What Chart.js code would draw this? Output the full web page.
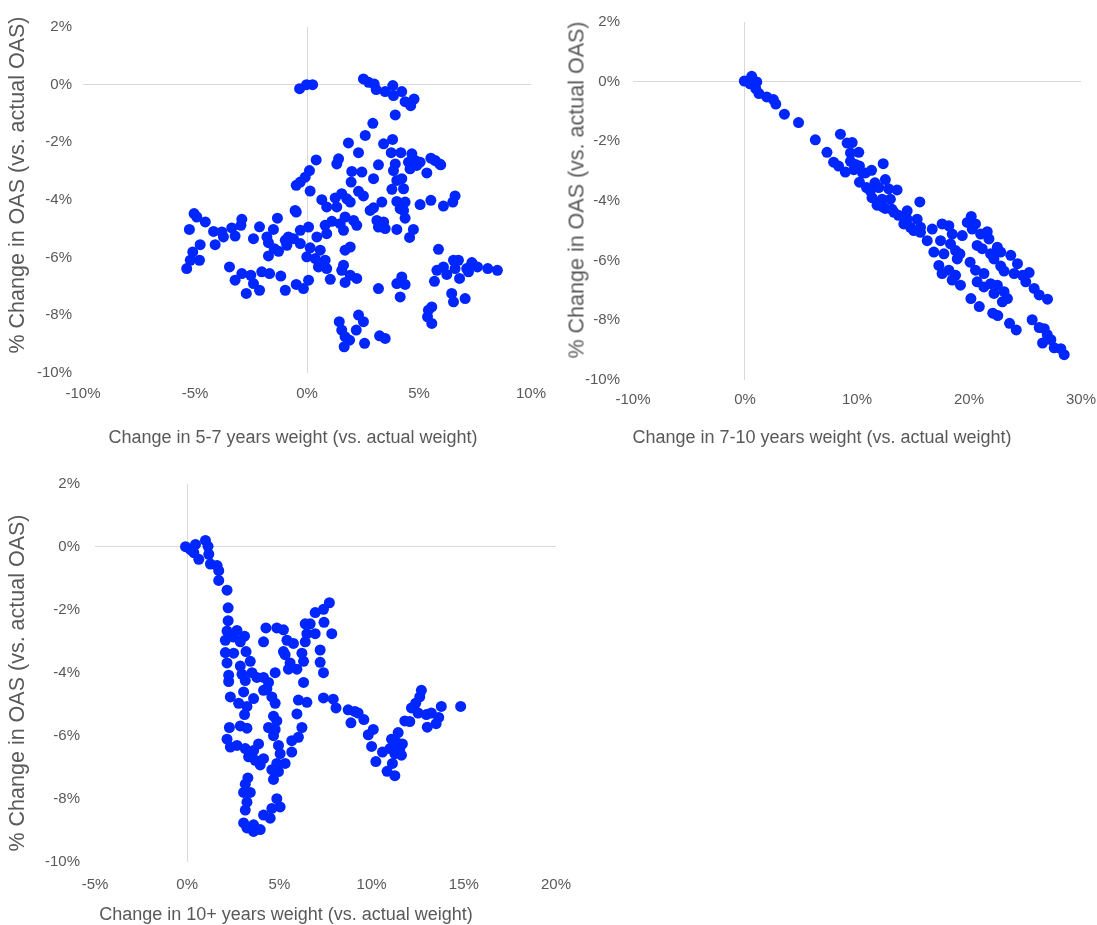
<!DOCTYPE html>
<html>
<head>
<meta charset="utf-8">
<script src="https://cdn.jsdelivr.net/npm/chart.js@4.4.1/dist/chart.umd.min.js"></script>
<style>
body{margin:0;background:#fff;width:1097px;height:925px;position:relative;overflow:hidden;font-family:"Liberation Sans",Arial,sans-serif;}
canvas{position:absolute;}
.xt,.yt{position:absolute;color:#595959;white-space:nowrap;font-size:18px;}
.xt{transform:translate(-50%,-50%);}
.yt{font-size:21.5px;transform:translate(-50%,-50%) rotate(-90deg);}
</style>
</head>
<body>
<canvas id="c1" width="565" height="460" style="left:0;top:0"></canvas>
<canvas id="c2" width="547" height="460" style="left:560px;top:0"></canvas>
<canvas id="c3" width="600" height="465" style="left:0;top:460px"></canvas>

<div class="yt" style="left:17px;top:185px">% Change in OAS (vs. actual OAS)</div>
<div class="xt" style="left:293px;top:437px">Change in 5-7 years weight (vs. actual weight)</div>
<div class="yt" style="left:577px;top:190px">% Change in OAS (vs. actual OAS)</div>
<div class="xt" style="left:822px;top:437px">Change in 7-10 years weight (vs. actual weight)</div>
<div class="yt" style="left:17px;top:683px">% Change in OAS (vs. actual OAS)</div>
<div class="xt" style="left:286px;top:914px">Change in 10+ years weight (vs. actual weight)</div>

<script>
// [weight change %, OAS change %]
const pts57 = [
	[-0.33,-0.14],[-0.02,0],[0.25,0],
	[2.52,0.2],[2.75,0.08],[3.0,0.02],[3.09,-0.17],[3.49,-0.24],[3.83,-0.03],[3.86,-0.38],[4.23,-0.24],[4.38,-0.59],[4.63,-0.73],[4.78,-0.5],
	[3.94,-1.05],[2.94,-1.34],[2.6,-1.76],[3.42,-2.05],[3.82,-1.9],[2.3,-2.36],[3.76,-2.36],[4.19,-2.36],[4.68,-2.4],[4.53,-2.69],[5.05,-2.69],
	[5.53,-2.55],[5.92,-2.75],[3.19,-2.78],[3.94,-2.75],[3.86,-2.98],[5.35,-3.06],[4.6,-2.92],[2.45,-3.03],[2.97,-3.26],[4.01,-3.32],[4.23,-3.26],
	[4.31,-3.61],[3.79,-3.63],[2.3,-3.7],[2.52,-3.86],[3.34,-4.07],[4.01,-4.05],[4.38,-4.07],[5.05,-4.16],[5.53,-4.01],[6.09,-4.21],[6.61,-3.86],
	[6.51,-4.07],[2.97,-4.27],[5.72,-2.63],[5.97,-2.78],[4.83,-2.63],[4.9,-2.8],
	[1.85,-2.02],[0.41,-2.61],[1.41,-2.57],[1.33,-2.75],[0.11,-2.98],[2.0,-3.01],[-0.08,-3.21],[-0.3,-3.38],[-0.48,-3.49],[0.14,-3.69],
	[1.97,-3.38],[0.66,-3.99],[1.26,-3.93],[1.55,-3.78],[1.78,-3.96],[1.93,-4.07],[0.88,-4.24],[1.33,-4.24],[-0.53,-4.36],
	[-5.04,-4.47],[-4.92,-4.59],[-4.54,-4.76],[-5.25,-5.02],[-4.17,-5.09],[-3.8,-5.11],[-3.73,-5.28],[-3.36,-4.97],[-3.21,-5.25],[-2.91,-4.67],
	[-2.95,-4.88],[-4.77,-5.55],[-4.1,-5.55],[-5.1,-5.8],[-5.21,-6.09],[-4.8,-6.09],[-5.37,-6.38],[-3.46,-6.32],[-2.91,-6.55],[-3.21,-6.78],
	[-2.51,-6.61],[-2.39,-6.9],[-2.12,-7.13],[-2.71,-7.24],[-2.02,-6.49],[-1.67,-6.55],[-1.17,-6.64],[-2.12,-4.93],[-2.39,-5.34],[-1.79,-5.28],
	[-1.72,-5.48],[-1.5,-5.02],[-1.32,-4.63],[-1.46,-5.69],[-1.27,-5.78],[-1.72,-5.94],[-0.97,-5.4],[-0.83,-5.28],[-0.6,-5.34],[-0.9,-5.57],
	[-0.48,-4.42],[-0.3,-5.05],[-0.3,-5.51],[0.07,-4.94],[0.14,-5.66],[-0.01,-5.97],[0.44,-5.28],[0.59,-5.74],[0.37,-6.03],[0.81,-6.09],
	[0.51,-6.32],[0.88,-6.38],[1.04,-6.75],[0.07,-6.78],[-0.16,-7.07],[-0.48,-6.93],[-0.97,-7.13],[0.81,-4.88],[1.11,-4.74],[0.88,-5.17],
	[1.48,-4.82],[1.7,-4.59],[1.63,-5.05],[2.08,-4.71],[1.93,-5.63],[1.7,-5.74],[1.63,-6.26],[1.55,-6.44],[1.93,-6.61],[1.7,-6.86],[2.22,-6.72],
	[1.44,-8.22],[1.55,-8.51],[1.7,-8.74],[1.9,-8.86],[1.66,-9.09],[2.2,-8.51],[2.3,-7.99],
	[2.82,-4.36],[2.22,-4.88],[3.12,-4.71],[3.42,-4.76],[3.19,-4.94],[3.49,-4.99],[4.16,-4.3],[4.31,-4.36],[4.38,-4.63],[4.01,-5.02],[4.75,-5.02],
	[4.58,-5.3],[5.87,-5.71],[6.54,-6.09],[6.76,-6.09],[5.8,-6.44],[6.09,-6.32],[6.24,-6.58],[6.61,-6.38],[6.81,-6.72],[7.13,-6.38],[7.36,-6.17],
	[7.21,-6.49],[7.61,-6.32],[8.07,-6.38],[8.5,-6.44],[5.69,-6.82],[6.46,-7.24],[6.54,-7.53],[7.06,-7.42],[5.57,-7.71],[5.42,-7.82],[5.38,-8.05],
	[5.57,-8.28],[4.23,-6.67],[4.01,-6.9],[4.38,-6.93],[4.16,-7.36],[3.19,-7.07],[2.52,-8.22],[3.24,-8.71],[3.49,-8.8],[2.57,-8.97]
];

const pts710 = [
	[-0.06,0.02],[0.6,0.18],[0.45,-0.07],[1.05,-0.01],[0.96,-0.23],[1.25,-0.4],[1.94,-0.51],[2.54,-0.6],[2.75,-0.75],[3.52,-1.09],[4.78,-1.37],
	[6.28,-1.95],[7.32,-2.37],[8.52,-1.76],[9.12,-2.06],[9.57,-2.04],[9.42,-2.39],[10.16,-2.37],[7.91,-2.7],[8.36,-2.83],[8.96,-3.03],[9.42,-2.67],
	[9.87,-2.78],[9.72,-2.95],[10.22,-2.83],[12.34,-2.75],[11.3,-2.97],[10.76,-3.06],[10.22,-3.37],[11.6,-3.39],[12.53,-3.28],[11.19,-3.66],
	[11.94,-3.55],[12.83,-3.59],[13.58,-3.63],[11.34,-3.89],[12.24,-3.94],[12.98,-3.94],[11.79,-4.14],[12.53,-4.25],[13.13,-4.28],[15.61,-4.03],
	[14.48,-4.33],[14.18,-4.77],[15.37,-4.61],[15.67,-4.88],[14.77,-4.88],[10.5,-3.06],[10.85,-3.55],[12.3,-4.2],[13.3,-4.38],[13.7,-4.48],
	[14.48,-4.61],[15.07,-4.99],[15.67,-5.05],[16.72,-4.94],[16.27,-5.33],[17.6,-4.77],[18.2,-4.83],[17.46,-5.33],[18.5,-5.11],[18.35,-5.44],
	[16.86,-5.71],[17.76,-5.77],[18.8,-5.66],[19.19,-5.77],[18.95,-5.94],[19.4,-5.16],[19.85,-4.72],[20.2,-4.52],[20.58,-4.77],[20.29,-4.94],
	[21.04,-5.11],[21.63,-5.03],[21.78,-5.27],[20.73,-5.49],[21.18,-5.6],[22.53,-5.55],[21.93,-5.77],[22.83,-5.71],[22.23,-5.94],[23.73,-5.82],
	[24.33,-6.1],[24.03,-6.43],[24.78,-6.49],[25.37,-6.4],[25.07,-6.71],[25.82,-6.93],[26.27,-7.15],[27.01,-7.29],[22.83,-6.18],[23.13,-6.35],
	[20.1,-6.05],[20.58,-6.32],[21.33,-6.43],[20.73,-6.71],[21.33,-6.88],[21.93,-6.77],[22.53,-6.82],[22.23,-7.1],[23.13,-7.04],[23.43,-7.27],
	[22.98,-7.38],[17.31,-6.16],[17.6,-6.43],[18.2,-6.32],[18.8,-6.49],[19.24,-6.82],[18.5,-6.65],[20.17,-7.27],[20.92,-7.54],[22.12,-7.76],
	[22.57,-7.84],[23.62,-8.1],[24.22,-8.32],[25.64,-7.98],[26.27,-8.24],[26.72,-8.28],[26.99,-8.48],[26.57,-8.76],[27.31,-8.65],[27.61,-8.92],
	[28.2,-8.95],[28.5,-9.15]
];

const pts10p = [
	[-0.09,0.01],[0.18,-0.08],[0.45,0.08],[0.36,-0.18],[0.63,-0.39],[0.99,0.21],[1.13,0.02],[1.17,-0.23],[1.26,-0.54],[1.62,-0.59],[1.71,-0.75],
	[1.71,-1.06],[2.16,-1.37],[2.22,-1.93],[2.22,-2.34],[2.16,-2.67],[2.07,-2.96],[2.7,-2.65],[2.52,-2.86],[3.11,-2.83],[2.88,-3.01],[3.19,-3.32],
	[2.07,-3.35],[2.52,-3.37],[2.16,-3.68],[3.42,-3.63],[2.25,-4.07],[2.88,-3.78],[2.97,-4.04],[2.25,-4.27],[3.15,-4.24],[3.51,-3.99],[3.78,-4.14],
	[4.14,-4.14],[4.41,-4.3],[4.77,-3.99],[4.27,-2.57],[4.14,-3.01],[4.86,-2.57],[5.22,-2.63],[5.41,-2.96],[5.76,-3.06],[5.22,-3.32],[5.31,-3.42],
	[5.58,-3.68],[6.22,-3.37],[6.31,-3.63],[5.49,-3.88],[5.95,-3.88],[6.31,-4.3],[6.4,-2.44],[6.67,-2.44],[6.94,-2.08],[7.39,-1.98],[6.49,-2.75],
	[6.94,-2.75],[6.4,-3.01],[7.21,-3.27],[7.21,-3.66],[7.39,-3.99],[7.71,-1.77],[7.42,-2.39],[7.84,-2.75],
	[2.34,-4.76],[2.79,-4.96],[3.06,-4.6],[3.24,-5.06],[3.11,-5.32],[3.6,-4.81],[4.14,-4.55],[4.59,-4.76],[4.32,-4.5],[4.77,-4.96],[6.03,-4.86],
	[6.49,-4.93],[7.39,-4.79],[5.95,-5.3],[4.68,-5.37],[4.86,-5.52],[4.41,-5.73],[4.77,-5.79],[4.68,-5.99],[6.22,-5.73],[6.03,-6.04],[5.67,-6.15],
	[5.67,-6.51],[2.29,-5.73],[2.88,-5.68],[3.24,-5.75],[2.16,-6.1],[2.34,-6.35],[2.7,-6.3],[3.15,-6.4],[3.33,-6.66],[3.6,-6.46],[3.87,-6.25],
	[3.69,-6.77],[4.14,-6.72],[3.96,-6.92],[4.95,-6.3],[5.04,-6.56],[5.31,-6.87],[4.86,-6.87],[4.59,-7.07],[4.95,-7.13],[4.68,-7.38],[3.29,-7.33],
	[3.15,-7.53],[3.06,-7.79],[3.42,-7.79],[3.24,-8.1],[3.15,-8.35],[3.06,-8.76],[3.24,-8.92],[3.6,-9.03],[3.6,-8.82],[3.96,-8.97],[4.14,-8.51],
	[4.59,-8.3],[4.5,-8.61],[4.86,-7.99],[5.04,-8.25],
	[7.92,-4.83],[8.07,-5.11],[8.73,-5.17],[9.09,-5.22],[9.27,-5.27],[9.58,-5.48],[8.88,-5.58],[10.09,-5.79],[9.82,-5.96],[10.0,-6.33],
	[10.23,-6.81],[10.59,-6.51],[10.84,-7.12],[11.26,-7.26],[11.13,-6.87],[10.99,-6.4],[11.08,-6.1],[11.44,-5.89],[11.35,-6.2],[11.53,-6.4],
	[11.62,-6.61],[11.26,-6.56],[11.67,-6.25],[11.8,-5.52],[12.07,-5.54],[12.16,-5.11],[12.39,-4.96],[12.61,-4.76],[12.7,-4.55],[12.52,-5.27],
	[12.97,-5.32],[13.24,-5.27],[13.64,-5.41],[13.5,-5.61],[13.02,-5.72],[13.78,-5.06],[14.83,-5.06]
];

const yTicks = [-10, 2, 2];       // min, max, step of the OAS axis
const xTicks57 = [-10, 10, 5];
const xTicks710 = [-10, 30, 10];
const xTicks10p = [-5, 20, 5];

const BLUE = "#0026ff";
const GREY = "#595959";

const zeroOnly = (c) => (c.tick && c.tick.value === 0 ? "#d9d9d9" : "rgba(0,0,0,0)");

function dibujar(id, pts, xt, box) {
	new Chart(document.getElementById(id), {
		type: "scatter",
		data: {
			datasets: [{
				data: pts.map((p) => ({ x: p[0], y: p[1] })),
				backgroundColor: BLUE,
				borderColor: BLUE,
				borderWidth: 0,
				pointRadius: 5.5,
				pointHoverRadius: 5.5,
			}],
		},
		options: {
			responsive: false,
			animation: false,
			devicePixelRatio: 1,
			layout: { padding: { top: box.top, right: box.right, left: 0, bottom: 0 } },
			plugins: { legend: { display: false }, tooltip: { enabled: false } },
			scales: {
				x: {
					type: "linear", min: xt[0], max: xt[1],
					ticks: { stepSize: xt[2], callback: (v) => v + "%", color: GREY, font: { size: 15, family: "'Liberation Sans', Arial" }, padding: box.xPad, maxRotation: 0, autoSkip: false },
					grid: { color: zeroOnly, drawTicks: false, lineWidth: 1 },
					border: { display: false },
					afterFit: (s) => { s.height = box.xh; },
				},
				y: {
					type: "linear", min: yTicks[0], max: yTicks[1],
					ticks: { stepSize: yTicks[2], callback: (v) => v + "%", color: GREY, font: { size: 15, family: "'Liberation Sans', Arial" }, padding: box.yPad },
					grid: { color: zeroOnly, drawTicks: false, lineWidth: 1 },
					border: { display: false },
					afterFit: (s) => { s.width = box.yw; },
				},
			},
		},
	});
}

dibujar("c1", pts57, xTicks57, { top: 27, right: 34, yw: 83, xh: 87, yPad: 11, xPad: 12 });
// the canvas runs past the page edge so that the 30% tick lands at x=1080
dibujar("c2", pts710, xTicks710, { top: 19, right: 0, yw: 73, xh: 80, yPad: 13, xPad: 11 });
dibujar("c3", pts10p, xTicks10p, { top: 13, right: 44, yw: 95, xh: 63, yPad: 15, xPad: 14 });
</script>
</body>
</html>
